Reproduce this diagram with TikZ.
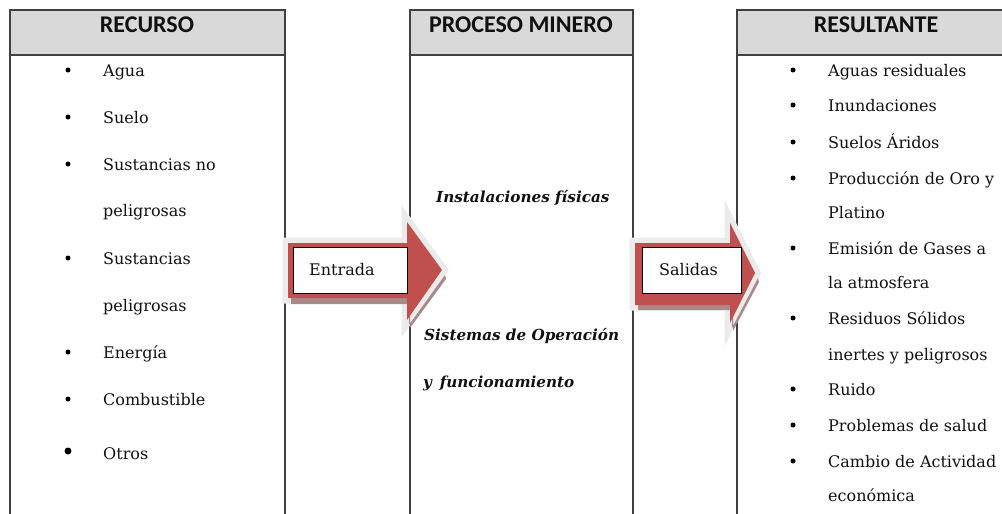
\documentclass[tikz,border=0pt]{standalone}
\usepackage{fontspec}
\setmainfont{DejaVu Serif}
\newfontfamily\hdrfont{Carlito}
\definecolor{hdrgray}{HTML}{D9D9D9}
\definecolor{boxline}{HTML}{404040}
\definecolor{arrred}{HTML}{C0504D}
\definecolor{glow}{HTML}{EBEBEB}
\definecolor{shade}{HTML}{A88A8A}
\definecolor{txt}{HTML}{111111}
\tikzset{
  colbox/.style={draw=boxline, line width=1.3pt},
  hdrbox/.style={draw=boxline, line width=1.3pt, fill=hdrgray},
  hdrtext/.style={anchor=base, inner sep=0pt, font=\hdrfont\bfseries\fontsize{24}{28}\selectfont, text=txt},
  item/.style={anchor=base west, inner sep=0pt, font=\fontsize{16}{19}\selectfont, text=txt},
  midtext/.style={anchor=base west, inner sep=0pt, font=\bfseries\itshape\fontsize{15.2}{18}\selectfont, text=txt},
  dot/.style={circle, fill=black, inner sep=0pt, minimum size=5pt},
  bigdot/.style={circle, fill=black, inner sep=0pt, minimum size=7pt},
  glowline/.style={draw=glow, line width=11pt, line join=miter},
  shadow/.style={fill=shade},
  redarrow/.style={fill=arrred},
  labelbox/.style={draw=black, line width=1pt, fill=white, anchor=north west, inner sep=0pt},
  labeltext/.style={anchor=base west, inner sep=0pt, font=\fontsize{16}{19}\selectfont, text=txt}
}
\begin{document}
\begin{tikzpicture}[x=1pt,y=-1pt]
\useasboundingbox (0,0) rectangle (1002,514);
\clip (0,0) rectangle (1002,514);
\fill[white] (0,0) rectangle (1002,514);
% columns
\draw[colbox] (10,10) rectangle (285,530);
\draw[hdrbox] (10,10) rectangle (285,55);
\draw[colbox] (410,10) rectangle (633,530);
\draw[hdrbox] (410,10) rectangle (633,55);
\draw[colbox] (737,10) rectangle (1012,530);
\draw[hdrbox] (737,10) rectangle (1012,55);
\node[hdrtext] (h1) at (147,32) {RECURSO};
\node[hdrtext] (h2) at (521,32) {PROCESO MINERO};
\node[hdrtext] (h3) at (876,32) {RESULTANTE};
% left items
\node[dot] (lb1) at (68,70) {};
\node[item] (l1) at (103,76) {Agua};
\node[dot] (lb2) at (68,117) {};
\node[item] (l2) at (103,123) {Suelo};
\node[dot] (lb3) at (68,164) {};
\node[item] (l3) at (103,170) {Sustancias no};
\node[item] (l3b) at (103,216) {peligrosas};
\node[dot] (lb4) at (68,258) {};
\node[item] (l4) at (103,264) {Sustancias};
\node[item] (l4b) at (103,311) {peligrosas};
\node[dot] (lb5) at (68,352) {};
\node[item] (l5) at (103,358) {Energía};
\node[dot] (lb6) at (68,399) {};
\node[item] (l6) at (103,405) {Combustible};
\node[bigdot] (lb7) at (68,451) {};
\node[item] (l7) at (103,459) {Otros};
% middle
\node[midtext] (m1) at (436,202) {Instalaciones físicas};
\node[midtext] (m2) at (424,340) {Sistemas de Operación};
\node[midtext] (m3) at (423,387) {y\, funcionamiento};
% right items
\node[dot] (rb1) at (793,70) {};
\node[item] (r1) at (828,76) {Aguas residuales};
\node[dot] (rb2) at (793,105) {};
\node[item] (r2) at (828,111) {Inundaciones};
\node[dot] (rb3) at (793,142) {};
\node[item] (r3) at (828,148) {Suelos Áridos};
\node[dot] (rb4) at (793,178) {};
\node[item] (r4) at (828,184) {Producción de Oro y};
\node[item] (r4b) at (828,218) {Platino};
\node[dot] (rb5) at (793,248) {};
\node[item] (r5) at (828,254) {Emisión de Gases a};
\node[item] (r5b) at (828,288) {la atmosfera};
\node[dot] (rb6) at (793,318) {};
\node[item] (r6) at (828,324) {Residuos Sólidos};
\node[item] (r6b) at (828,360) {inertes y peligrosos};
\node[dot] (rb7) at (793,389) {};
\node[item] (r7) at (828,395) {Ruido};
\node[dot] (rb8) at (793,425) {};
\node[item] (r8) at (828,431) {Problemas de salud};
\node[dot] (rb9) at (793,461) {};
\node[item] (r9) at (828,467) {Cambio de Actividad};
\node[item] (r9b) at (828,501) {económica};
% arrow 1 (Entrada)
\draw[glowline] (288,243) -- (407,243) -- (407,222) -- (442,270) -- (407,320) -- (407,298) -- (288,298) -- cycle;
\fill[shadow] (291,297) -- (409,297) -- (409,325) -- (445,275) -- (446,279) -- (410,328) -- (410,304) -- (291,304) -- cycle;
\fill[redarrow] (288,243) -- (407,243) -- (407,222) -- (442,270) -- (407,320) -- (407,298) -- (288,298) -- cycle;
\node[labelbox, minimum width=114pt, minimum height=46pt] (e) at (293,247) {};
\node[labeltext] at (309,275) {Entrada};
% arrow 2 (Salidas)
\draw[glowline] (635,243) -- (730,243) -- (730,223) -- (755,273) -- (730,323) -- (730,305) -- (635,305) -- cycle;
\fill[shadow] (638,304) -- (732,304) -- (732,328) -- (758,278) -- (759,282) -- (733,331) -- (733,310) -- (638,310) -- cycle;
\fill[redarrow] (635,243) -- (730,243) -- (730,223) -- (755,273) -- (730,323) -- (730,305) -- (635,305) -- cycle;
\node[labelbox, minimum width=99pt, minimum height=46pt] (s) at (642,247) {};
\node[labeltext] at (659,275) {Salidas};
\end{tikzpicture}
\end{document}
